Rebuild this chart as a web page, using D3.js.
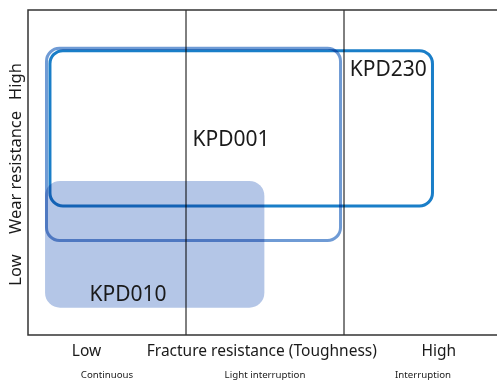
<!DOCTYPE html>
<meta charset="utf-8">
<style>
  body { margin: 0; background: #fff; }
  svg { position: absolute; top: 0; left: 0; }
  text { font-family: 'Noto Sans', sans-serif; fill: #1a1a1a; }
  .grade { font-size: 21px; }
  .axis-main { font-size: 15.5px; }
  .axis-y { font-size: 16.5px; }
  .axis-sub { font-size: 9.7px; }
</style>
<script src="https://d3js.org/d3.v7.min.js"></script>
<svg width="497" height="383"></svg>
<script>
  // zones along the toughness axis
  var zones = ["Continuous", "Light interruption", "Interruption"];
  var xLabels = ["Low", "Fracture resistance (Toughness)", "High"];
  var xLabelPos = [0.37, 1.48, 2.6];
  var yLabels = ["Low", "Wear resistance", "High"];
  var yLabelPos = [0.2, 0.5, 0.78];

  // grade areas: toughness (0-3) x wear resistance (0-1)
  var grades = ["KPD010", "KPD001", "KPD230"];
  var x0 = [0.108, 0.117, 0.139];
  var x1 = [1.496, 1.978, 2.56];
  var y0 = [0.084, 0.291, 0.397];
  var y1 = [0.474, 0.882, 0.875];
  var labelX = [0.633, 1.285, 2.28];
  var labelY = [0.106, 0.582, 0.797];

  var svg = d3.select("svg");

  var x = d3.scaleLinear().domain([0, 3]).range([28, 502]);
  var y = d3.scaleLinear().domain([0, 1]).range([335, 10]);

  var style = {
    KPD010: { fill: "#b4c6e7", stroke: "none", r: 15 },
    KPD001: { fill: "none", stroke: "#6f9bd5", r: 13 },
    KPD230: { fill: "none", stroke: "#1a7ec8", r: 13 }
  };

  var g = svg.append("g");

  g.selectAll("rect.grade")
    .data(grades)
    .enter().append("rect")
    .attr("class", "grade-area")
    .attr("x", function(d, i) { return x(x0[i]); })
    .attr("y", function(d, i) { return y(y1[i]); })
    .attr("width", function(d, i) { return x(x1[i]) - x(x0[i]); })
    .attr("height", function(d, i) { return y(y0[i]) - y(y1[i]); })
    .attr("rx", function(d) { return style[d].r; })
    .style("fill", function(d) { return style[d].fill; })
    .style("stroke", function(d) { return style[d].stroke; })
    .style("stroke-width", 3)
    .style("mix-blend-mode", "multiply");

  // zone dividers
  g.selectAll("line.div")
    .data([1, 2])
    .enter().append("line")
    .attr("x1", function(d) { return x(d); })
    .attr("x2", function(d) { return x(d); })
    .attr("y1", y(1))
    .attr("y2", y(0))
    .style("stroke", "#000")
    .style("stroke-width", 1);

  // frame (no right edge)
  svg.append("path")
    .attr("d", "M497," + y(1) + "H" + x(0) + "V" + y(0) + "H497")
    .style("fill", "none")
    .style("stroke", "#333")
    .style("stroke-width", 1.5);

  g.selectAll("text.grade")
    .data(grades)
    .enter().append("text")
    .attr("class", "grade")
    .attr("x", function(d, i) { return x(labelX[i]); })
    .attr("y", function(d, i) { return y(labelY[i]); })
    .attr("text-anchor", "middle")
    .text(function(d) { return d; });

  svg.selectAll("text.axis-main")
    .data(xLabels)
    .enter().append("text")
    .attr("class", "axis-main")
    .attr("x", function(d, i) { return x(xLabelPos[i]); })
    .attr("y", 356)
    .attr("text-anchor", "middle")
    .text(function(d) { return d; });

  svg.selectAll("text.axis-sub")
    .data(zones)
    .enter().append("text")
    .attr("class", "axis-sub")
    .attr("x", function(d, i) { return x(i + 0.5); })
    .attr("y", 378)
    .attr("text-anchor", "middle")
    .text(function(d) { return d; });

  svg.selectAll("text.axis-y")
    .data(yLabels)
    .enter().append("text")
    .attr("class", "axis-y")
    .attr("transform", function(d, i) { return "translate(21," + y(yLabelPos[i]) + ") rotate(-90)"; })
    .attr("text-anchor", "middle")
    .text(function(d) { return d; });
</script>
